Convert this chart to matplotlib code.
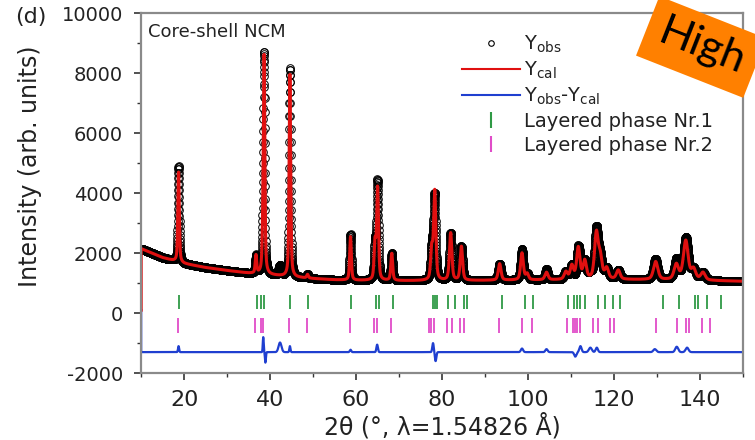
import numpy as np
import matplotlib.pyplot as plt
from matplotlib.lines import Line2D
from matplotlib.ticker import MultipleLocator

plt.rcParams["axes.unicode_minus"] = False

# background of the pattern (2theta, counts)
bg_x = [10, 15, 20, 25, 30, 35, 40, 45, 50, 55, 60, 70, 80, 90, 100, 110, 120, 130, 140, 150]
bg_y = [2150, 1850, 1650, 1520, 1420, 1330, 1270, 1200, 1150, 1110, 1090, 1080, 1080, 1090,
        1100, 1110, 1120, 1110, 1090, 1060]

# calculated reflections: position, net height, FWHM
peak_pos = [18.7, 36.7, 38.3, 38.6, 44.6, 48.7, 58.7, 64.4, 65.0, 68.3, 77.6, 78.3, 82.0, 84.5,
            93.4, 98.6, 99.8, 104.3, 108.8, 110.2, 111.7, 113.2, 115.9, 116.8, 118.3, 121.0,
            129.7, 134.5, 136.7, 138.5, 140.7]
peak_height = [3000, 600, 900, 7100, 6750, 120, 1450, 1200, 3050, 900, 1000, 2950, 1580, 1130,
               550, 900, 200, 250, 250, 450, 1050, 600, 1500, 700, 350, 300,
               600, 500, 1300, 350, 250]
peak_fwhm = [0.4, 0.4, 0.4, 0.4, 0.42, 0.45, 0.45, 0.5, 0.5, 0.5, 0.6, 0.6, 0.65, 0.65,
             0.75, 0.75, 0.75, 0.85, 0.9, 0.9, 0.9, 0.9, 1.0, 1.0, 1.0, 1.0,
             1.2, 1.2, 1.3, 1.2, 1.2]

# misfit features seen in the difference curve: position, amplitude, width
diff_pos = [18.7, 38.4, 38.9, 42.3, 44.6, 58.7, 64.9, 77.9, 78.5, 98.6, 104.3, 111.0, 112.2,
            114.5, 116.0, 129.5, 134.6, 137.0]
diff_amp = [200, 500, -350, 320, 200, 80, 250, 300, -300, 120, 100, -150, 200,
            150, 150, 100, 180, 150]
diff_width = [0.3, 0.25, 0.25, 0.8, 0.3, 0.4, 0.4, 0.4, 0.4, 0.6, 0.6, 0.6, 0.6,
              0.8, 0.6, 0.8, 0.8, 0.8]
DIFF_OFFSET = -1300
START_VALUE = 100

# Bragg positions of the two layered phases
phase1_pos = [18.7, 36.9, 37.9, 38.5, 44.6, 48.8, 58.8, 64.7, 65.4, 68.7, 77.8, 78.3, 78.8,
              81.4, 83.0, 85.0, 85.8, 94.0, 99.3, 101.2, 109.4, 110.6, 111.3, 112.2, 113.3,
              116.2, 117.8, 119.8, 121.4, 131.4, 135.2, 138.8, 139.6, 141.7, 145.0]
phase2_pos = [18.6, 36.5, 37.9, 38.4, 44.4, 48.5, 58.6, 64.2, 64.9, 68.2, 77.0, 77.5, 78.1,
              81.1, 82.3, 84.2, 85.2, 93.2, 98.6, 100.9, 109.1, 110.5, 111.0, 111.5, 112.0,
              115.1, 116.3, 119.1, 120.0, 129.8, 134.7, 136.7, 137.4, 140.5, 142.4]

RED = "#e01010"
BLUE = "#1f3fd0"
GREEN = "#2f9a45"
MAGENTA = "#e04cc8"
GREY = "#8a8a8a"
TEXT = "#222222"


def pseudo_voigt(x, x0, h, w, eta=0.5):
    d = (x - x0) / w
    return h * (eta / (1 + 4 * d ** 2) + (1 - eta) * np.exp(-4 * np.log(2) * d ** 2))


tt = np.arange(10, 150.0001, 0.02)
y_cal = np.interp(tt, bg_x, bg_y)
for p, h, w in zip(peak_pos, peak_height, peak_fwhm):
    y_cal += pseudo_voigt(tt, p, h, w)

misfit = np.zeros_like(tt)
for p, a, w in zip(diff_pos, diff_amp, diff_width):
    misfit += a * np.exp(-4 * np.log(2) * ((tt - p) / w) ** 2)

y_obs = y_cal + misfit
y_diff = misfit + DIFF_OFFSET

fig = plt.figure(figsize=(7.55, 4.4), dpi=100)
ax = fig.add_axes([0.187, 0.152, 0.797, 0.818])

# reflection markers
ax.vlines(phase1_pos, 150, 600, color=GREEN, lw=1.3)
ax.vlines(phase2_pos, -670, -170, color=MAGENTA, lw=1.3)

ax.plot(np.r_[10, tt], np.r_[START_VALUE, y_diff], color=BLUE, lw=1.6)
ax.plot(tt, y_obs, "o", mfc="none", mec="black", ms=5.5, mew=0.7)
ax.plot(np.r_[10, tt], np.r_[START_VALUE, y_cal], color=RED, lw=2.2)

ax.set_xlim(10, 150)
ax.set_ylim(-2000, 10000)
ax.xaxis.set_major_locator(MultipleLocator(20))
ax.xaxis.set_minor_locator(MultipleLocator(10))
ax.yaxis.set_major_locator(MultipleLocator(2000))
ax.yaxis.set_minor_locator(MultipleLocator(1000))

for s in ax.spines.values():
    s.set_color(GREY)
    s.set_linewidth(1.6)
ax.tick_params(axis="both", which="both", direction="out", color="#333333", top=False, right=False)
ax.tick_params(axis="both", which="major", length=5, width=1.2)
ax.tick_params(axis="both", which="minor", length=3, width=1.0)
ax.tick_params(axis="x", labelsize=16, pad=7, labelcolor=TEXT)
ax.tick_params(axis="y", labelsize=14, pad=8, labelcolor=TEXT)

ax.set_xlabel("2\u03b8 (\u00b0, \u03bb=1.54826 \u00c5)", fontsize=17, color=TEXT)
ax.xaxis.set_label_coords(0.5, -0.11)
ax.set_ylabel("Intensity (arb. units)", fontsize=17, color=TEXT)
ax.yaxis.set_label_coords(-0.165, 0.575)

ax.text(0.012, 0.972, "Core-shell NCM", transform=ax.transAxes, fontsize=13,
        color=TEXT, ha="left", va="top")
fig.text(0.02, 0.962, "(d)", fontsize=16, color=TEXT, ha="left", va="center")

handles = [
    Line2D([], [], ls="none", marker="o", mfc="none", mec="black", ms=4, mew=0.8),
    Line2D([], [], color=RED, lw=1.5),
    Line2D([], [], color=BLUE, lw=1.5),
    Line2D([], [], ls="none", marker="|", color=GREEN, ms=12, mew=1.5),
    Line2D([], [], ls="none", marker="|", color=MAGENTA, ms=12, mew=1.5),
]
labels = [
    r"Y$_{\mathregular{obs}}$",
    r"Y$_{\mathregular{cal}}$",
    r"Y$_{\mathregular{obs}}$-Y$_{\mathregular{cal}}$",
    "Layered phase Nr.1",
    "Layered phase Nr.2",
]
leg = ax.legend(handles, labels, loc="upper left", bbox_to_anchor=(0.52, 0.965),
                frameon=False, fontsize=14, handlelength=3.0, handletextpad=0.2,
                labelspacing=0.25, borderaxespad=0)
for t in leg.get_texts():
    t.set_color(TEXT)

# orange stamp in the corner
fig.text(0.868, 0.905, "High", fontsize=31, family="Lato", color="black",
         rotation=-21.5, rotation_mode="anchor", ha="left", va="baseline",
         bbox=dict(boxstyle="square,pad=0.3", facecolor="#ff8000", edgecolor="none"))

fig.savefig("out.png", dpi=100)
